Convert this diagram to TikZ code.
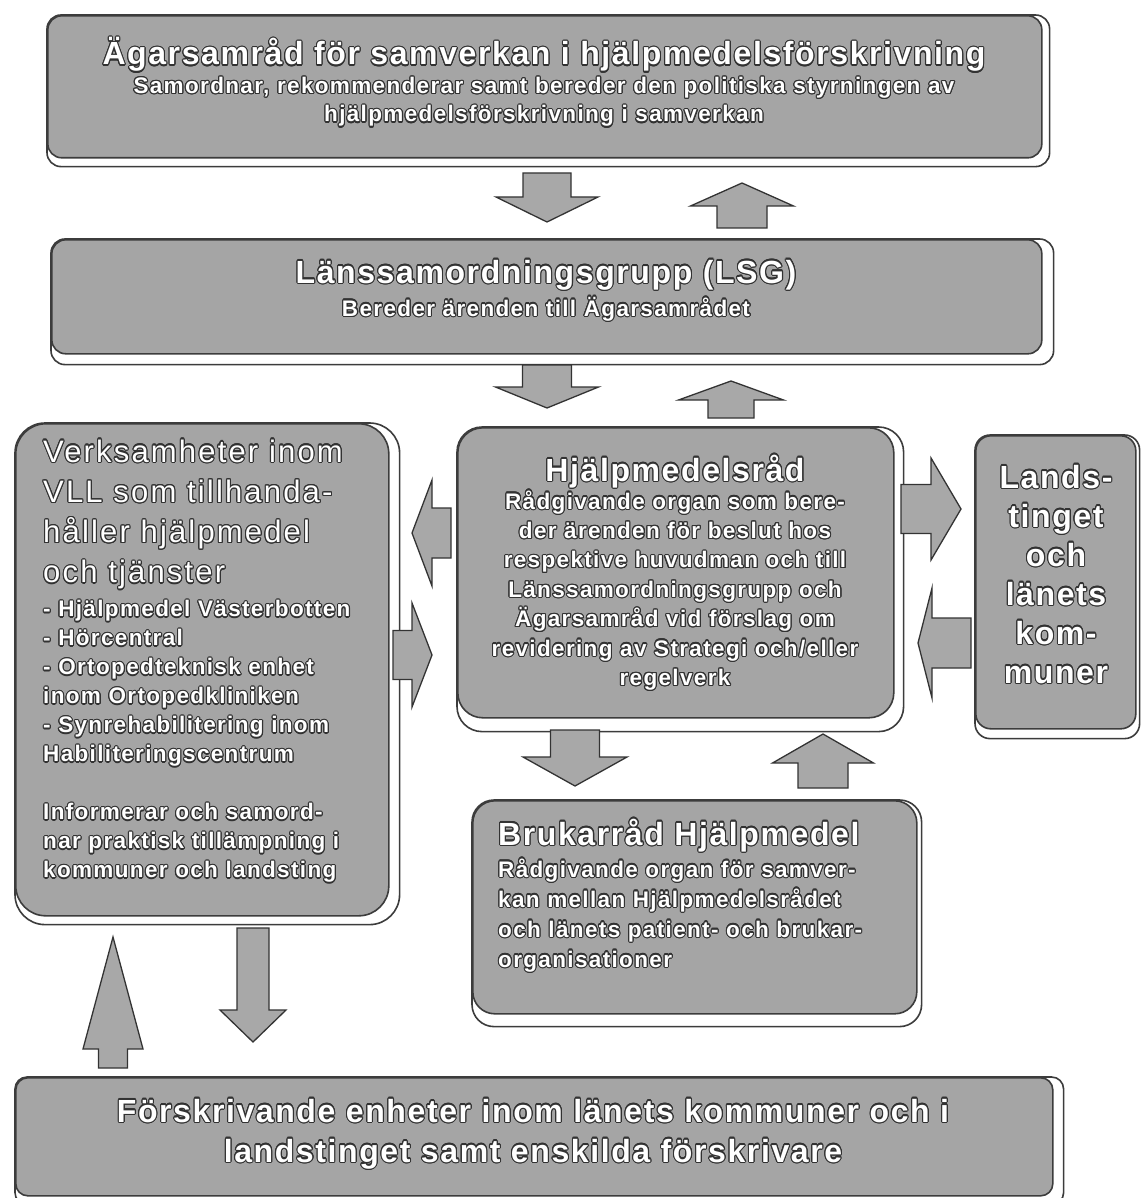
\documentclass[tikz,border=0pt]{standalone}
\usepackage{fontspec}
\setmainfont{Liberation Sans}
\newfontfamily\ttlfam[LetterSpace=5]{Liberation Sans}
\newfontfamily\bdyfam[LetterSpace=6]{Liberation Sans}
\newfontfamily\bigfam[LetterSpace=7]{Liberation Sans}
\usepackage{contour}
\contourlength{1.1pt}
\usetikzlibrary{calc,backgrounds}
\definecolor{boxfill}{RGB}{165,165,165}
\definecolor{boxline}{RGB}{60,60,60}
\definecolor{arrowfill}{RGB}{168,168,168}
\definecolor{tline}{RGB}{50,50,50}
\newcommand\ttlfont{\ttlfam\bfseries\fontsize{32}{38}\selectfont}
\newcommand\bdyfont{\bdyfam\bfseries\fontsize{22.5}{29}\selectfont}
\newcommand\bigfont{\bigfam\mdseries\fontsize{31}{40}\selectfont}
\newcommand\olt[1]{\contour{tline}{#1}}
\newcommand\varrow[6]{%
  \draw[blockarrow] ({#1-#4/2},#2) -- ({#1-#4/2},#6) -- ({#1-#5/2},#6) -- (#1,#3)
    -- ({#1+#5/2},#6) -- ({#1+#4/2},#6) -- ({#1+#4/2},#2) -- cycle;}
\newcommand\harrow[6]{%
  \draw[blockarrow] (#2,{#1-#4/2}) -- (#6,{#1-#4/2}) -- (#6,{#1-#5/2}) -- (#3,#1)
    -- (#6,{#1+#5/2}) -- (#6,{#1+#4/2}) -- (#2,{#1+#4/2}) -- cycle;}
\begin{document}
\begin{tikzpicture}[x=1pt,y=-1pt,
  box/.style={draw=boxline, line width=1.6pt, fill=boxfill, inner sep=0pt, anchor=north west},
  shadowbox/.style={draw=boxline, line width=1.6pt, fill=white},
  blockarrow/.style={draw=black!80, line width=1.3pt, fill=arrowfill, line join=miter},
  txt/.style={inner sep=0pt, text=white}]
\useasboundingbox (0,0) rectangle (1141,1198);

% boxes
\node[box, rounded corners=14pt, minimum width=994pt, minimum height=142pt] (top) at (47,15) {};
\node[box, rounded corners=14pt, minimum width=990pt, minimum height=114pt] (lsg) at (51,239) {};
\node[box, rounded corners=30pt, minimum width=373pt, minimum height=492pt] (vll) at (15,423) {};
\node[box, rounded corners=25pt, minimum width=436pt, minimum height=290pt] (hj) at (457,427) {};
\node[box, rounded corners=15pt, minimum width=160pt, minimum height=293pt] (lands) at (975,435) {};
\node[box, rounded corners=22pt, minimum width=444pt, minimum height=213pt] (bruk) at (472,800) {};
\node[box, rounded corners=12pt, minimum width=1037pt, minimum height=118pt] (bot) at (15,1077) {};

\begin{pgfonlayer}{background}
\fill[white] (0,0) rectangle (1141,1198);
\draw[shadowbox, rounded corners=14pt] (top.north west) rectangle ($(top.south east)+(7,8)$);
\draw[shadowbox, rounded corners=14pt] (lsg.north west) rectangle ($(lsg.south east)+(11,10)$);
\draw[shadowbox, rounded corners=30pt] (vll.north west) rectangle ($(vll.south east)+(10,8)$);
\draw[shadowbox, rounded corners=25pt] (hj.north west) rectangle ($(hj.south east)+(9,13)$);
\draw[shadowbox, rounded corners=15pt] (lands.north west) rectangle ($(lands.south east)+(3,9)$);
\draw[shadowbox, rounded corners=22pt] (bruk.north west) rectangle ($(bruk.south east)+(4,12)$);
\draw[shadowbox, rounded corners=12pt] (bot.north west) rectangle ($(bot.south east)+(10,8)$);
\end{pgfonlayer}

% texts
\node[txt, anchor=base] (toptext) at (544,65) {\vtop{\lineskiplimit=-1000pt\baselineskip=28.5pt
  \halign{\hfil#\hfil\cr
  \ttlfont\olt{Ägarsamråd för samverkan i hjälpmedelsförskrivning}\cr
  \bdyfont\olt{Samordnar, rekommenderar samt bereder den politiska styrningen av}\cr
  \bdyfont\olt{hjälpmedelsförskrivning i samverkan}\cr}}};

\node[txt, anchor=base] (lsgtext) at (546,283) {\vtop{\lineskiplimit=-1000pt\baselineskip=33pt
  \halign{\hfil#\hfil\cr
  \ttlfont\olt{Länssamordningsgrupp (LSG)}\cr
  \bdyfont\olt{Bereder ärenden till Ägarsamrådet}\cr}}};

\node[txt, anchor=base] (hjtitle) at (675,481) {\ttlfont\olt{Hjälpmedelsråd}};
\node[txt, anchor=base] (hjtext) at (675,509) {\vtop{\lineskiplimit=-1000pt\baselineskip=29.4pt
  \halign{\hfil#\hfil\cr
  \bdyfont\olt{Rådgivande organ som bere-}\cr
  \bdyfont\olt{der ärenden för beslut hos}\cr
  \bdyfont\olt{respektive huvudman och till}\cr
  \bdyfont\olt{Länssamordningsgrupp och}\cr
  \bdyfont\olt{Ägarsamråd vid förslag om}\cr
  \bdyfont\olt{revidering av Strategi och/eller}\cr
  \bdyfont\olt{regelverk}\cr}}};

\node[txt, anchor=base] (landstext) at (1056,488) {\vtop{\lineskiplimit=-1000pt\baselineskip=39pt
  \halign{\hfil#\hfil\cr
  \ttlfont\olt{Lands-}\cr
  \ttlfont\olt{tinget}\cr
  \ttlfont\olt{och}\cr
  \ttlfont\olt{länets}\cr
  \ttlfont\olt{kom-}\cr
  \ttlfont\olt{muner}\cr}}};

\node[txt, anchor=base west] (vlltext) at (43,462) {\vtop{\lineskiplimit=-1000pt\baselineskip=29pt
  \halign{#\hfil\cr
  \bigfont\olt{Verksamheter inom}\cr
  \noalign{\vskip 11.3pt}
  \bigfont\olt{VLL som tillhanda-}\cr
  \noalign{\vskip 11.3pt}
  \bigfont\olt{håller hjälpmedel}\cr
  \noalign{\vskip 11.3pt}
  \bigfont\olt{och tjänster}\cr
  \noalign{\vskip 5pt}
  \bdyfont\olt{- Hjälpmedel Västerbotten}\cr
  \bdyfont\olt{- Hörcentral}\cr
  \bdyfont\olt{- Ortopedteknisk enhet}\cr
  \bdyfont\olt{inom Ortopedkliniken}\cr
  \bdyfont\olt{- Synrehabilitering inom}\cr
  \bdyfont\olt{Habiliteringscentrum}\cr
  \noalign{\vskip 29pt}
  \bdyfont\olt{Informerar och samord-}\cr
  \bdyfont\olt{nar praktisk tillämpning i}\cr
  \bdyfont\olt{kommuner och landsting}\cr}}};

\node[txt, anchor=base west] (bruktext) at (498,845) {\vtop{\lineskiplimit=-1000pt\baselineskip=30pt
  \halign{#\hfil\cr
  \ttlfont\olt{Brukarråd Hjälpmedel}\cr
  \noalign{\vskip 2pt}
  \bdyfont\olt{Rådgivande organ för samver-}\cr
  \bdyfont\olt{kan mellan Hjälpmedelsrådet}\cr
  \bdyfont\olt{och länets patient- och brukar-}\cr
  \bdyfont\olt{organisationer}\cr}}};

\node[txt, anchor=base] (bottext) at (533,1122) {\vtop{\lineskiplimit=-1000pt\baselineskip=40pt
  \halign{\hfil#\hfil\cr
  \ttlfont\olt{Förskrivande enheter inom länets kommuner och i}\cr
  \ttlfont\olt{landstinget samt enskilda förskrivare}\cr}}};

% block arrows
\varrow{547}{173}{222}{48}{102}{197}
\varrow{742}{228}{183}{50}{103}{206}
\varrow{547}{365}{408}{49}{103}{387}
\varrow{731}{418}{381}{46}{105}{400}
\harrow{533}{451}{412}{50}{106}{432}
\harrow{655}{393}{432}{49}{104}{412}
\harrow{509}{901}{961}{49}{102}{931}
\harrow{643}{971}{918}{50}{110}{932}
\varrow{575}{730}{786}{49}{104}{757}
\varrow{823}{788}{734}{50}{101}{763}
\varrow{253}{928}{1042}{32}{66}{1010}
\varrow{113}{1068}{937}{29}{60}{1049}
\end{tikzpicture}
\end{document}
